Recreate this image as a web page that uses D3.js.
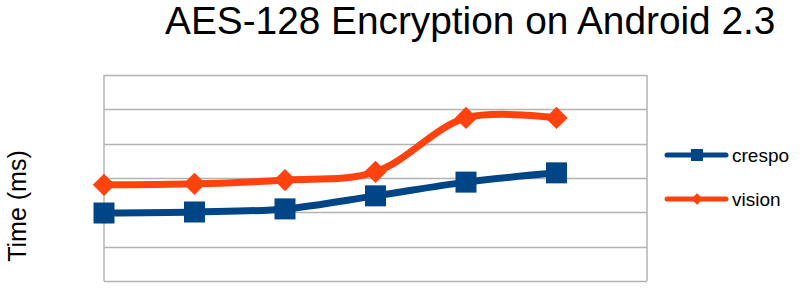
<!DOCTYPE html>
<html>
<head>
<meta charset="utf-8">
<script src="https://cdn.jsdelivr.net/npm/d3@7"></script>
<style>
  body { margin: 0; background: #fff; }
  text { font-family: "Liberation Sans", Arial, sans-serif; }
</style>
</head>
<body>
<svg id="chart" width="804" height="292"></svg>
<script>
// values (no axis labels shown, unit = one gridline step)
var categories = ["1", "2", "3", "4", "5", "6"];
var crespo = [1.98, 2.01, 2.10, 2.48, 2.88, 3.15];
var vision = [2.80, 2.83, 2.94, 3.18, 4.75, 4.75];
var seriesNames = ["crespo", "vision"];
var yTicks = [0, 1, 2, 3, 4, 5, 6];

var svg = d3.select("#chart");
var plotLeft = 104, plotRight = 647, plotTop = 75, plotBottom = 281;

// LibreOffice puts the points on the left edge of each slot
var x = d3.scaleLinear().domain([0, categories.length]).range([plotLeft, plotRight]);
var y = d3.scaleLinear().domain([0, 6]).range([plotBottom, plotTop]);

// grid
svg.append("g").selectAll("line")
  .data(yTicks)
  .enter().append("line")
  .attr("x1", plotLeft).attr("x2", plotRight)
  .attr("y1", function(d) { return Math.round(y(d)) + 0.5; })
  .attr("y2", function(d) { return Math.round(y(d)) + 0.5; })
  .attr("stroke", "#b3b3b3").attr("stroke-width", 1.5);
svg.append("line")
  .attr("x1", plotLeft).attr("x2", plotLeft).attr("y1", plotTop).attr("y2", plotBottom)
  .attr("stroke", "#b3b3b3").attr("stroke-width", 1.5);
svg.append("line")
  .attr("x1", plotRight).attr("x2", plotRight).attr("y1", plotTop).attr("y2", plotBottom)
  .attr("stroke", "#b3b3b3").attr("stroke-width", 1.5);

var line = d3.line()
  .x(function(d, i) { return x(i); })
  .y(function(d) { return y(d); })
  .curve(d3.curveCatmullRom.alpha(0.5));

var colors = { crespo: "#004586", vision: "#ff420e" };
var data = { crespo: crespo, vision: vision };

seriesNames.forEach(function(name) {
  svg.append("path")
    .datum(data[name])
    .attr("d", line)
    .attr("fill", "none")
    .attr("stroke", colors[name])
    .attr("stroke-width", 7)
    .attr("stroke-linejoin", "round");
});

// markers
svg.append("g").selectAll("rect")
  .data(crespo)
  .enter().append("rect")
  .attr("x", function(d, i) { return x(i) - 10.5; })
  .attr("y", function(d) { return y(d) - 10.5; })
  .attr("width", 21).attr("height", 21)
  .attr("fill", colors.crespo);

var diamond = d3.symbol().type(d3.symbolSquare).size(250);
svg.append("g").selectAll("path")
  .data(vision)
  .enter().append("path")
  .attr("d", diamond)
  .attr("transform", function(d, i) { return "translate(" + x(i) + "," + y(d) + ") rotate(45)"; })
  .attr("fill", colors.vision);

// title
svg.append("text")
  .attr("x", 165).attr("y", 34)
  .attr("font-size", 38.8)
  .attr("fill", "#000")
  .text("AES-128 Encryption on Android 2.3");

// y label
svg.append("text")
  .attr("transform", "translate(26,206) rotate(-90)")
  .attr("text-anchor", "middle")
  .attr("font-size", 25)
  .attr("fill", "#000")
  .text("Time (ms)");

// legend
var legend = svg.append("g").selectAll("g")
  .data(seriesNames)
  .enter().append("g")
  .attr("transform", function(d, i) { return "translate(665," + (155 + i * 44) + ")"; });
legend.append("line")
  .attr("x1", 2).attr("x2", 61).attr("y1", 0).attr("y2", 0)
  .attr("stroke", function(d) { return colors[d]; })
  .attr("stroke-width", 5).attr("stroke-linecap", "round");
legend.filter(function(d) { return d == "crespo"; }).append("rect")
  .attr("x", 26).attr("y", -6).attr("width", 12).attr("height", 12)
  .attr("fill", colors.crespo);
legend.filter(function(d) { return d == "vision"; }).append("path")
  .attr("d", d3.symbol().type(d3.symbolSquare).size(64))
  .attr("transform", "translate(32,0) rotate(45)")
  .attr("fill", colors.vision);
legend.append("text")
  .attr("x", 67).attr("y", 7)
  .attr("font-size", 19)
  .attr("fill", "#000")
  .text(function(d) { return d; });
</script>
</body>
</html>
